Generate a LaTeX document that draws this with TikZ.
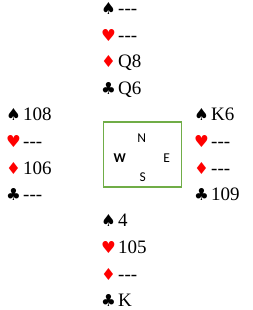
\documentclass[tikz,border=0pt]{standalone}
\usepackage{fontspec}
\setmainfont{Liberation Serif}
\newfontfamily\suitfont{DejaVu Sans}
\newfontfamily\compassfont{Carlito}

\definecolor{tablegreen}{RGB}{112,173,71}
\definecolor{suitred}{RGB}{255,0,0}

\newcommand{\pip}[1]{\makebox[17pt][l]{\suitfont\fontsize{16.5}{17}\selectfont\char"#1}}
\newcommand{\Sp}{\pip{2660}}
\newcommand{\He}{\textcolor{suitred}{\pip{2665}}}
\newcommand{\Di}{\textcolor{suitred}{\pip{2666}}}
\newcommand{\Cl}{\pip{2663}}
\newcommand{\void}{-\kern0pt-\kern0pt-}

\tikzset{
  holding/.style={anchor=base west, inner sep=0pt, font=\fontsize{19}{20}\selectfont},
  seat/.style={anchor=base, inner sep=0pt, font=\compassfont\fontsize{13.5}{14}\selectfont},
}

\begin{document}
\begin{tikzpicture}[x=1pt, y=-1pt]
  \useasboundingbox (0,0) rectangle (252,310);

  % North hand
  \node[holding] (nS) at (101, 14.7) {\Sp\void};
  \node[holding] (nH) at (101, 41.3) {\He\void};
  \node[holding] (nD) at (101, 68.0) {\Di Q8};
  \node[holding] (nC) at (101, 94.7) {\Cl Q6};

  % West hand
  \node[holding] (wS) at (6, 120.7) {\Sp 108};
  \node[holding] (wH) at (6, 147.4) {\He\void};
  \node[holding] (wD) at (6, 174.0) {\Di 106};
  \node[holding] (wC) at (6, 200.7) {\Cl\void};

  % East hand
  \node[holding] (eS) at (194, 120.7) {\Sp K6};
  \node[holding] (eH) at (194, 147.4) {\He\void};
  \node[holding] (eD) at (194, 174.0) {\Di\void};
  \node[holding] (eC) at (194, 200.7) {\Cl 109};

  % South hand
  \node[holding] (sS) at (101, 226.7) {\Sp 4};
  \node[holding] (sH) at (101, 253.3) {\He 105};
  \node[holding] (sD) at (101, 280.0) {\Di\void};
  \node[holding] (sC) at (101, 306.7) {\Cl K};

  % Table with the four seats
  \node[draw=tablegreen, line width=1.3pt, inner sep=0pt,
        minimum width=78.4pt, minimum height=65pt] (table) at (142.5, 154.5) {};
  \node[seat] (seatN) at (141.7, 142.0) {N};
  \node[seat, font=\compassfont\bfseries\fontsize{13.5}{14}\selectfont] (seatW) at (119.7, 162.0) {W};
  \node[seat] (seatE) at (166.7, 162.0) {E};
  \node[seat] (seatS) at (142.8, 181.3) {S};

\end{tikzpicture}
\end{document}
